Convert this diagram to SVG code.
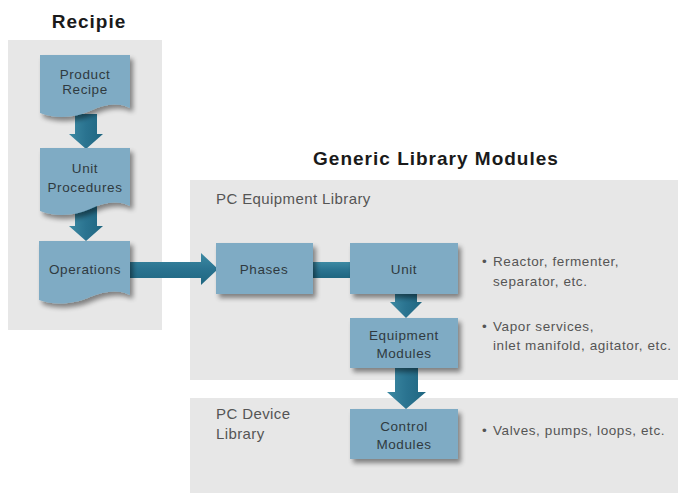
<svg xmlns="http://www.w3.org/2000/svg" width="678" height="495" viewBox="0 0 678 495">
<defs>
<filter id="sh" x="-20%" y="-20%" width="150%" height="160%">
<feGaussianBlur in="SourceAlpha" stdDeviation="2.5"/>
<feOffset dx="3" dy="4" result="b"/>
<feComponentTransfer><feFuncA type="linear" slope="0.45"/></feComponentTransfer>
<feMerge><feMergeNode/><feMergeNode in="SourceGraphic"/></feMerge>
</filter>
<linearGradient id="gh" x1="0" y1="0" x2="0" y2="1">
<stop offset="0" stop-color="#3d8aa3"/><stop offset="0.5" stop-color="#2a7390"/><stop offset="1" stop-color="#1f6680"/>
</linearGradient>
<linearGradient id="gv" x1="0" y1="0" x2="1" y2="0">
<stop offset="0" stop-color="#3d8aa3"/><stop offset="0.5" stop-color="#2a7390"/><stop offset="1" stop-color="#1f6680"/>
</linearGradient>
<style>
.panel{fill:#e7e7e7}
.box{fill:#7fabc4;filter:url(#sh)}
.bt{font-family:"Liberation Sans",Arial,sans-serif;font-size:13.5px;letter-spacing:0.6px;fill:#2f3a40;text-anchor:middle}
.title{font-family:"Liberation Sans",Arial,sans-serif;font-size:19px;font-weight:bold;letter-spacing:1px;fill:#1a1a1a;text-anchor:middle}
.lab{font-family:"Liberation Sans",Arial,sans-serif;font-size:15px;letter-spacing:0.4px;fill:#555}
.bul{font-family:"Liberation Sans",Arial,sans-serif;font-size:13.5px;letter-spacing:0.6px;fill:#555}
.ah{fill:url(#gv)}
.ahh{fill:url(#gh)}
</style>
</defs>
<g id="panels">
<rect class="panel" x="8" y="40" width="154" height="290"/>
<rect class="panel" x="190" y="180" width="488" height="200"/>
<rect class="panel" x="190" y="398" width="488" height="95"/>
</g>
<g id="titles">
<text class="title" x="89" y="28">Recipie</text>
<text class="title" x="436" y="165">Generic Library Modules</text>
<text class="lab" x="216" y="204">PC Equipment Library</text>
<text class="lab" x="216" y="419">PC Device</text>
<text class="lab" x="216" y="439">Library</text>
</g>
<g id="connectors">
<path class="ah" d="M75,114 H97 V134 H103 L86,149 L69,134 H75 Z"/>
<path class="ah" d="M75,205 H97 V226 H103 L86,241 L69,226 H75 Z"/>
<path class="ahh" d="M128,262 H201 V253 L218,269 L201,285 V278 H128 Z"/>
<rect class="ahh" x="311" y="262" width="41" height="16"/>
<path class="ah" d="M395,292 H417 V302 H422 L406,318 L390,302 H395 Z"/>
<path class="ah" d="M395,366 H418 V392 H426 L406,409 L387,392 H395 Z"/>
</g>
<g id="product-recipe">
<path class="box" d="M40,55 H130 V108 C118,102 104,104 90,111 C75,118 55,119 40,113 Z"/>
<text class="bt" x="85" y="79">Product</text>
<text class="bt" x="85" y="94">Recipe</text>
</g>
<g id="unit-procedures">
<path class="box" d="M40,148 H130 V206 C118,200 104,202 90,209 C75,216 55,217 40,211 Z"/>
<text class="bt" x="85" y="173">Unit</text>
<text class="bt" x="85" y="192">Procedures</text>
</g>
<g id="operations">
<path class="box" d="M39,241 H130 V295 C118,289 104,291 90,297 C75,304 55,306 39,300 Z"/>
<text class="bt" x="85" y="274">Operations</text>
</g>
<g id="phases">
<rect class="box" x="216" y="243" width="97" height="51"/>
<text class="bt" x="264" y="274">Phases</text>
</g>
<g id="unit">
<rect class="box" x="350" y="243" width="108" height="51"/>
<text class="bt" x="404" y="274">Unit</text>
</g>
<g id="equipment-modules">
<rect class="box" x="350" y="318" width="108" height="50"/>
<text class="bt" x="404" y="340">Equipment</text>
<text class="bt" x="404" y="358">Modules</text>
</g>
<g id="control-modules">
<rect class="box" x="350" y="409" width="108" height="50"/>
<text class="bt" x="404" y="431">Control</text>
<text class="bt" x="404" y="449">Modules</text>
</g>
<g id="bullets">
<text class="bul" x="482" y="266">•</text>
<text class="bul" x="493" y="266">Reactor, fermenter,</text>
<text class="bul" x="493" y="286">separator, etc.</text>
<text class="bul" x="482" y="331">•</text>
<text class="bul" x="493" y="331">Vapor services,</text>
<text class="bul" x="493" y="350">inlet manifold, agitator, etc.</text>
<text class="bul" x="482" y="435">•</text>
<text class="bul" x="493" y="435">Valves, pumps, loops, etc.</text>
</g>
</svg>
